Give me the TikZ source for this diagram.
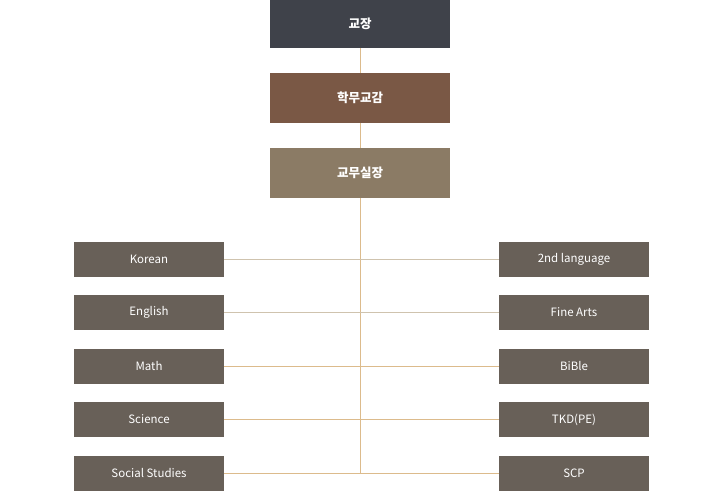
\documentclass[tikz,border=0pt]{standalone}
\usepackage{fontspec}
\setmainfont{Noto Sans CJK KR}
\usetikzlibrary{positioning}
\definecolor{headgray}{HTML}{3F424A}
\definecolor{vicebrown}{HTML}{7A5845}
\definecolor{officetan}{HTML}{8B7B65}
\definecolor{subjgray}{HTML}{686058}
\definecolor{linetan}{HTML}{DCBB8C}
\definecolor{linegray}{HTML}{CFC3AE}
\tikzset{
  head/.style={rectangle,minimum width=180,minimum height=50,inner sep=0,outer sep=0,
    text=white,font=\fontsize{12.5}{14}\selectfont\bfseries},
  subj/.style={rectangle,fill=subjgray,minimum width=150,minimum height=35,inner sep=0,outer sep=0,
    text=white,font=\fontsize{11.5}{13}\selectfont},
  link/.style={linetan,line width=0.8pt}
}
\begin{document}
\begin{tikzpicture}[x=1pt,y=-1pt,node distance=18.5pt]
\useasboundingbox (0,0) rectangle (720,500);
        \node[head,fill=headgray,minimum height=48,anchor=north] (top) at (360,0) {교장};
        \node[head,fill=vicebrown,below=25pt of top] (vice) {학무교감};
        \node[head,fill=officetan,below=25pt of vice] (office) {교무실장};
        \coordinate (end) at (360,473);
         % left column
        \node[subj] (kor) at (149,259) {Korean};
        \node[subj,below=of kor] (eng) {English};
        \node[subj,below=of eng] (math) {Math};
        \node[subj,below=of math] (sci) {Science};
        \node[subj,below=of sci] (soc) {Social Studies};
         % right column
        \node[subj,right=275pt of kor] (lang) {2nd language};
        \node[subj,right=275pt of eng] (arts) {Fine Arts};
        \node[subj,right=275pt of math] (bible) {BiBle};
        \node[subj,right=275pt of sci] (tkd) {TKD(PE)};
        \node[subj,right=275pt of soc] (scp) {SCP};
        \draw[link] (top) to (vice);
        \draw[link] (vice) to (office);
        \draw[link] (office) to (end);
        \draw[link,linegray] (kor) to (lang);
        \draw[link,linegray] (eng) to (arts);
        \draw[link] (math) to (bible);
        \draw[link] (sci) to (tkd);
        \draw[link] (soc) to (scp);

      \end{tikzpicture}
\end{document}
